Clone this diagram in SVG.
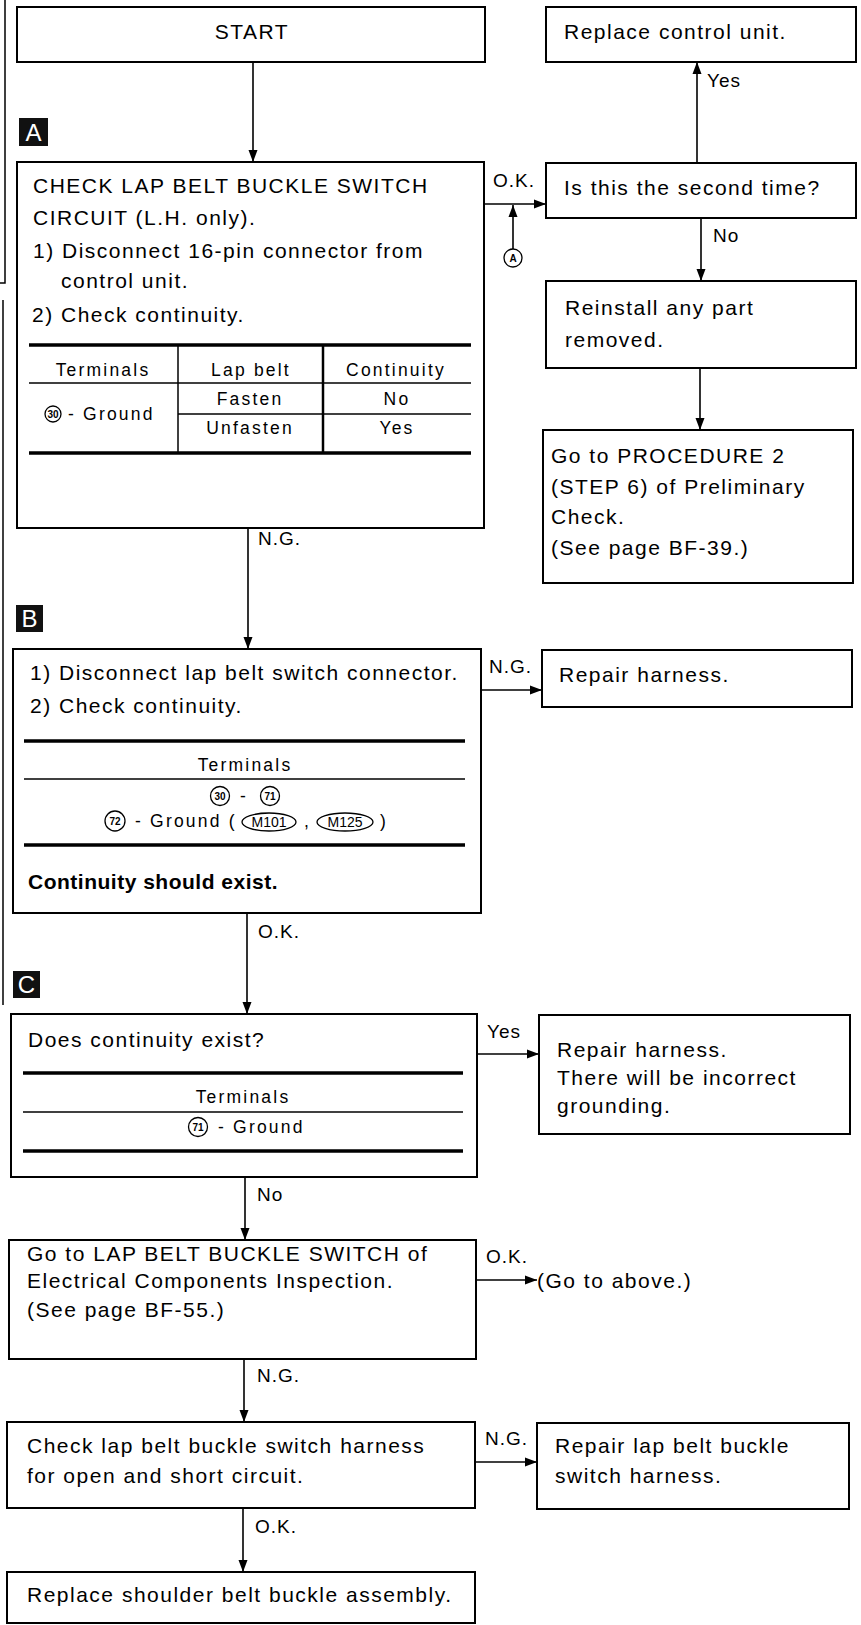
<svg xmlns="http://www.w3.org/2000/svg" width="861" height="1625" viewBox="0 0 861 1625">
<style>
.box{fill:#fff;stroke:#000;stroke-width:2}
.t{font-family:"Liberation Sans",Arial,sans-serif;font-size:21px;letter-spacing:1.5px;fill:#000}
.b{font-weight:bold;letter-spacing:0.5px}
.lbl{font-family:"Liberation Sans",Arial,sans-serif;font-size:19px;letter-spacing:1px;fill:#000}
.tb{font-family:"Liberation Sans",Arial,sans-serif;font-size:17.5px;letter-spacing:2.2px;fill:#000}
.thick{stroke:#000;stroke-width:3.5}
.thin{stroke:#000;stroke-width:1.5}
.conn{fill:none;stroke:#000;stroke-width:1.6}
.cn{fill:none;stroke:#000;stroke-width:1.3}
.cnt{font-family:"Liberation Sans",Arial,sans-serif;font-size:10px;font-weight:bold;fill:#000}
.mt{font-family:"Liberation Sans",Arial,sans-serif;font-size:14px;fill:#000}
.badge{fill:#111}
.bt{font-family:"Liberation Sans",Arial,sans-serif;font-size:24px;fill:#fff}
.edge{fill:none;stroke:#000;stroke-width:1.5}
</style>
<defs>
<marker id="ah" viewBox="0 0 12 10" refX="12" refY="5" markerWidth="12" markerHeight="10" markerUnits="userSpaceOnUse" orient="auto">
<path d="M0,0.5 L12,5 L0,9.5 z" fill="#000"/>
</marker>
</defs>

<g id="page-edge">
<path class="edge" d="M5,0 V283 H0"/>
<path class="edge" d="M3,300 V1005"/>
</g>

<g id="connectors">
<path class="conn" d="M253,62 V162" marker-end="url(#ah)"/>
<path class="conn" d="M484,204 H546" marker-end="url(#ah)"/>
<path class="conn" d="M513,249 V205" marker-end="url(#ah)"/>
<path class="conn" d="M697,163 V62" marker-end="url(#ah)"/>
<path class="conn" d="M701,218 V281" marker-end="url(#ah)"/>
<path class="conn" d="M700,368 V430" marker-end="url(#ah)"/>
<path class="conn" d="M248,528 V649" marker-end="url(#ah)"/>
<path class="conn" d="M481,690 H542" marker-end="url(#ah)"/>
<path class="conn" d="M247,913 V1014" marker-end="url(#ah)"/>
<path class="conn" d="M477,1054 H539" marker-end="url(#ah)"/>
<path class="conn" d="M245,1177 V1240" marker-end="url(#ah)"/>
<path class="conn" d="M476,1280 H537" marker-end="url(#ah)"/>
<path class="conn" d="M244,1359 V1422" marker-end="url(#ah)"/>
<path class="conn" d="M475,1462 H537" marker-end="url(#ah)"/>
<path class="conn" d="M243,1508 V1572" marker-end="url(#ah)"/>
<text class="lbl" x="493" y="187">O.K.</text>
<circle class="cn" cx="513" cy="258" r="9"/>
<text class="cnt" x="513" y="262" text-anchor="middle" font-size="12">A</text>
<text class="lbl" x="707" y="87">Yes</text>
<text class="lbl" x="713" y="242">No</text>
<text class="lbl" x="258" y="545">N.G.</text>
<text class="lbl" x="489" y="673">N.G.</text>
<text class="lbl" x="258" y="938">O.K.</text>
<text class="lbl" x="487" y="1038">Yes</text>
<text class="lbl" x="257" y="1201">No</text>
<text class="lbl" x="486" y="1263">O.K.</text>
<text class="lbl" x="257" y="1382">N.G.</text>
<text class="lbl" x="485" y="1445">N.G.</text>
<text class="lbl" x="255" y="1533">O.K.</text>
</g>

<g id="start">
<rect class="box" x="17" y="7" width="468" height="55"/>
<text class="t" x="252" y="39" text-anchor="middle">START</text>
</g>

<g id="badge-a">
<rect class="badge" x="19" y="118" width="29" height="28"/>
<text class="bt" x="33.5" y="141" text-anchor="middle">A</text>
</g>

<g id="step-a">
<rect class="box" x="17" y="162" width="467" height="366"/>
<text class="t" x="33" y="193">CHECK LAP BELT BUCKLE SWITCH</text>
<text class="t" x="33" y="225">CIRCUIT (L.H. only).</text>
<text class="t" x="33" y="258">1) Disconnect 16-pin connector from</text>
<text class="t" x="61" y="288">control unit.</text>
<text class="t" x="32" y="322">2) Check continuity.</text>
<line class="thick" x1="29" y1="345" x2="471" y2="345"/>
<line class="thin" x1="29" y1="383" x2="471" y2="383"/>
<line class="thin" x1="178" y1="414" x2="471" y2="414"/>
<line class="thick" x1="29" y1="453" x2="471" y2="453"/>
<line class="thin" x1="178" y1="345" x2="178" y2="453"/>
<line class="thick" x1="323" y1="345" x2="323" y2="453" style="stroke-width:2.5"/>
<text class="tb" x="103" y="376" text-anchor="middle">Terminals</text>
<text class="tb" x="251" y="376" text-anchor="middle">Lap belt</text>
<text class="tb" x="396" y="376" text-anchor="middle">Continuity</text>
<text class="tb" x="250" y="405" text-anchor="middle">Fasten</text>
<text class="tb" x="397" y="405" text-anchor="middle">No</text>
<text class="tb" x="250" y="434" text-anchor="middle">Unfasten</text>
<text class="tb" x="397" y="434" text-anchor="middle">Yes</text>
<circle class="cn" cx="53" cy="414" r="8"/>
<text class="cnt" x="53" y="418" text-anchor="middle" font-size="9">30</text>
<text class="tb" x="68" y="420">- Ground</text>
</g>

<g id="replace-control-unit">
<rect class="box" x="546" y="7" width="310" height="55"/>
<text class="t" x="564" y="39">Replace control unit.</text>
</g>

<g id="second-time">
<rect class="box" x="546" y="163" width="310" height="55"/>
<text class="t" x="564" y="195">Is this the second time?</text>
</g>

<g id="reinstall">
<rect class="box" x="546" y="281" width="310" height="87"/>
<text class="t" x="565" y="315">Reinstall any part</text>
<text class="t" x="565" y="347">removed.</text>
</g>

<g id="procedure-2">
<rect class="box" x="543" y="430" width="310" height="153"/>
<text class="t" x="551" y="463">Go to PROCEDURE 2</text>
<text class="t" x="551" y="494">(STEP 6) of Preliminary</text>
<text class="t" x="551" y="524">Check.</text>
<text class="t" x="551" y="555">(See page BF-39.)</text>
</g>

<g id="badge-b">
<rect class="badge" x="16" y="605" width="27" height="27"/>
<text class="bt" x="29.5" y="627" text-anchor="middle">B</text>
</g>

<g id="step-b">
<rect class="box" x="13" y="649" width="468" height="264"/>
<text class="t" x="30" y="680">1) Disconnect lap belt switch connector.</text>
<text class="t" x="30" y="713">2) Check continuity.</text>
<line class="thick" x1="24" y1="741" x2="465" y2="741"/>
<text class="tb" x="245" y="771" text-anchor="middle">Terminals</text>
<line class="thin" x1="24" y1="779" x2="465" y2="779"/>
<circle class="cn" cx="220" cy="796" r="9.5"/>
<text class="cnt" x="220" y="800" text-anchor="middle">30</text>
<text class="tb" x="240" y="802">-</text>
<circle class="cn" cx="270" cy="796" r="9.5"/>
<text class="cnt" x="270" y="800" text-anchor="middle">71</text>
<circle class="cn" cx="115" cy="821" r="10"/>
<text class="cnt" x="115" y="825" text-anchor="middle">72</text>
<text class="tb" x="135" y="827">- Ground (</text>
<ellipse class="cn" cx="269" cy="822" rx="27" ry="9"/>
<text class="mt" x="269" y="827" text-anchor="middle">M101</text>
<text class="tb" x="304" y="827">,</text>
<ellipse class="cn" cx="345" cy="822" rx="28" ry="9"/>
<text class="mt" x="345" y="827" text-anchor="middle">M125</text>
<text class="tb" x="380" y="827">)</text>
<line class="thick" x1="24" y1="845" x2="465" y2="845"/>
<text class="t b" x="28" y="889">Continuity should exist.</text>
</g>

<g id="repair-harness-1">
<rect class="box" x="542" y="650" width="310" height="57"/>
<text class="t" x="559" y="682">Repair harness.</text>
</g>

<g id="badge-c">
<rect class="badge" x="13" y="971" width="27" height="27"/>
<text class="bt" x="26.5" y="993" text-anchor="middle">C</text>
</g>

<g id="step-c">
<rect class="box" x="11" y="1014" width="466" height="163"/>
<text class="t" x="28" y="1047">Does continuity exist?</text>
<line class="thick" x1="23" y1="1073" x2="463" y2="1073"/>
<text class="tb" x="243" y="1103" text-anchor="middle">Terminals</text>
<line class="thin" x1="23" y1="1112" x2="463" y2="1112"/>
<circle class="cn" cx="198" cy="1127" r="9.5"/>
<text class="cnt" x="198" y="1131" text-anchor="middle">71</text>
<text class="tb" x="218" y="1133">- Ground</text>
<line class="thick" x1="23" y1="1151" x2="463" y2="1151"/>
</g>

<g id="repair-harness-2">
<rect class="box" x="539" y="1015" width="311" height="119"/>
<text class="t" x="557" y="1057">Repair harness.</text>
<text class="t" x="557" y="1085">There will be incorrect</text>
<text class="t" x="557" y="1113">grounding.</text>
</g>

<g id="lap-belt-inspection">
<rect class="box" x="9" y="1240" width="467" height="119"/>
<text class="t" x="27" y="1261">Go to LAP BELT BUCKLE SWITCH of</text>
<text class="t" x="27" y="1288">Electrical Components Inspection.</text>
<text class="t" x="27" y="1317">(See page BF-55.)</text>
</g>

<g id="go-above">
<text class="t" x="537" y="1288">(Go to above.)</text>
</g>

<g id="check-harness">
<rect class="box" x="7" y="1422" width="468" height="86"/>
<text class="t" x="27" y="1453">Check lap belt buckle switch harness</text>
<text class="t" x="27" y="1483">for open and short circuit.</text>
</g>

<g id="repair-lap-belt">
<rect class="box" x="537" y="1423" width="312" height="86"/>
<text class="t" x="555" y="1453">Repair lap belt buckle</text>
<text class="t" x="555" y="1483">switch harness.</text>
</g>

<g id="replace-shoulder">
<rect class="box" x="7" y="1572" width="468" height="51"/>
<text class="t" x="27" y="1602">Replace shoulder belt buckle assembly.</text>
</g>
</svg>
